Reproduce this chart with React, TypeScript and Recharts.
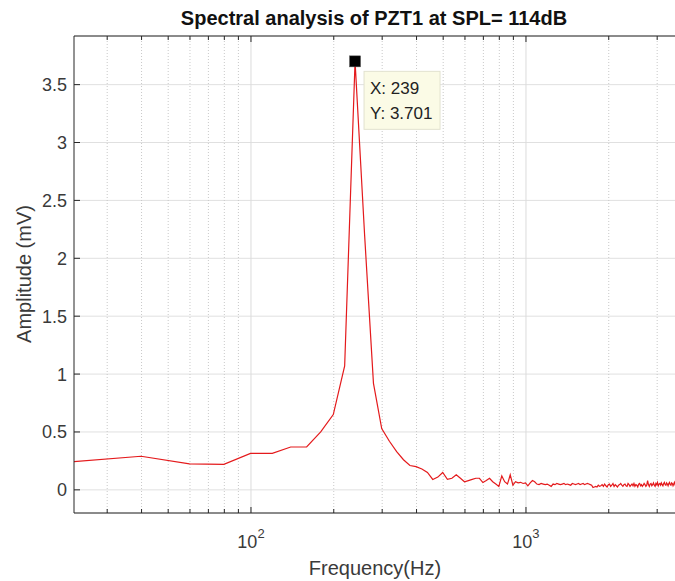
import React from 'react';
import { LineChart, Line, XAxis, YAxis, CartesianGrid, ReferenceLine, ReferenceDot } from 'recharts';

const W = 675;
const H = 581;
const FONT = '"Liberation Sans", Arial, Helvetica, sans-serif';
const AXIS_COLOR = '#262626';
const TEXT_COLOR = '#3a3a3a';

// FFT bin spacing (Hz) and the amplitude (mV) of each bin
const binWidthHz = 19.92;
const amplitudeMv = [
  0.233, 0.29, 0.225, 0.22, 0.315, 0.315, 0.37, 0.37, 0.5, 0.65,
  1.07, 3.701, 2.2, 0.92, 0.53, 0.42, 0.33, 0.26, 0.21, 0.2,
  0.18, 0.15, 0.09, 0.11, 0.15, 0.09, 0.1, 0.13, 0.1, 0.07,
  0.08, 0.09, 0.1, 0.1, 0.063, 0.08, 0.1, 0.07, 0.05, 0.03,
  0.12, 0.07, 0.05, 0.13, 0.04, 0.07, 0.06, 0.065, 0.055, 0.06,
  0.035, 0.06, 0.08, 0.07, 0.05, 0.045, 0.055, 0.05, 0.045, 0.05,
  0.04, 0.03, 0.05, 0.045, 0.055, 0.05, 0.045, 0.05, 0.055, 0.045,
  0.05, 0.045, 0.04, 0.055, 0.05, 0.045, 0.05, 0.055, 0.045, 0.05,
  0.055, 0.045, 0.05, 0.055, 0.05, 0.045, 0.04, 0.02, 0.025, 0.03,
  0.025, 0.04, 0.03, 0.035, 0.045, 0.03, 0.05, 0.035, 0.025, 0.045,
  0.05, 0.03, 0.04, 0.055, 0.03, 0.045, 0.035, 0.025, 0.04, 0.045,
  0.055, 0.04, 0.03, 0.045, 0.05, 0.035, 0.03, 0.055, 0.045, 0.03,
  0.04, 0.05, 0.035, 0.055, 0.03, 0.045, 0.04, 0.025, 0.05, 0.055,
  0.035, 0.045, 0.03, 0.04, 0.055, 0.045, 0.03, 0.04, 0.08, 0.045,
  0.03, 0.05, 0.055, 0.035, 0.045, 0.06, 0.04, 0.03, 0.055, 0.045,
  0.065, 0.035, 0.05, 0.055, 0.04, 0.06, 0.045, 0.035, 0.055, 0.065,
  0.045, 0.04, 0.06, 0.05, 0.035, 0.055, 0.065, 0.045, 0.04, 0.06,
  0.055, 0.035, 0.05, 0.065, 0.045, 0.055, 0.04,
];
const data = amplitudeMv.map((a, i) => ({ f: (i + 1) * binWidthHz, a }));

const xDomain: [number, number] = [22.72, 3483];
const yDomain: [number, number] = [-0.2, 3.92];
const yTicks = [0, 0.5, 1, 1.5, 2, 2.5, 3, 3.5];
const xMajorTicks = [100, 1000];
const xMinorTicks = [30, 40, 50, 60, 70, 80, 90, 200, 300, 400, 500, 600, 700, 800, 900, 2000, 3000];
const xAllTicks = [...xMinorTicks, ...xMajorTicks].sort((p, q) => p - q);

const title = 'Spectral analysis of PZT1 at SPL= 114dB';
const xLabel = 'Frequency(Hz)';
const yLabel = 'Amplitude (mV)';
const tipX = 239;
const tipY = 3.701;

const BottomTick = (props: any) => {
  const { x, y, payload } = props;
  const major = xMajorTicks.includes(payload.value);
  const exp = Math.round(Math.log10(payload.value));
  return (
    <g>
      <line x1={x} x2={x} y1={y} y2={y - (major ? 6 : 4)} stroke={AXIS_COLOR} strokeWidth={1} />
      {major && (
        <text x={x} y={y + 35} textAnchor="middle" fontSize={18} fill={TEXT_COLOR} fontFamily={FONT}>
          <tspan>10</tspan>
          <tspan dy={-10} fontSize={13}>{exp}</tspan>
        </text>
      )}
    </g>
  );
};

const TopTick = (props: any) => {
  const { x, y, payload } = props;
  const major = xMajorTicks.includes(payload.value);
  return <line x1={x} x2={x} y1={y} y2={y + (major ? 6 : 4)} stroke={AXIS_COLOR} strokeWidth={1} />;
};

const LeftTick = (props: any) => {
  const { x, y, payload } = props;
  return (
    <g>
      <line x1={x} x2={x + 6} y1={y} y2={y} stroke={AXIS_COLOR} strokeWidth={1} />
      <text x={x - 7} y={y} dy="0.36em" textAnchor="end" fontSize={18} fill={TEXT_COLOR} fontFamily={FONT}>
        {payload.value}
      </text>
    </g>
  );
};

const DataTip = (props: any) => {
  const { cx, cy } = props;
  return (
    <g>
      <rect x={cx - 5.5} y={cy - 5.5} width={11} height={11} fill="#000" stroke="#555" strokeWidth={0.5} />
      <rect x={cx + 9} y={cy + 10} width={76} height={58} fill="#fbfbe6" stroke="#e2e2cf" strokeWidth={1} />
      <text x={cx + 15} y={cy + 33} fontSize={17} fill="#222" fontFamily={FONT}>{`X: ${tipX}`}</text>
      <text x={cx + 15} y={cy + 58} fontSize={17} fill="#222" fontFamily={FONT}>{`Y: ${tipY}`}</text>
    </g>
  );
};

export default function App() {
  return (
    <div style={{ position: 'absolute', left: 0, top: 0, width: W, height: H, background: '#fff' }}>
      <LineChart width={W} height={H} data={data} margin={{ top: 26, right: 0, bottom: 28, left: 14 }}>
        <CartesianGrid xAxisId="bottom" vertical={false} stroke="#e0e0e0" />
        {xMinorTicks.map((v) => (
          <ReferenceLine key={`m${v}`} xAxisId="bottom" x={v} stroke="#c9c9c9" strokeDasharray="1 2" />
        ))}
        {xMajorTicks.map((v) => (
          <ReferenceLine key={`M${v}`} xAxisId="bottom" x={v} stroke="#dcdcdc" />
        ))}
        <XAxis
          xAxisId="bottom"
          dataKey="f"
          type="number"
          scale="log"
          domain={xDomain}
          allowDataOverflow
          ticks={xAllTicks}
          interval={0}
          height={40}
          tickSize={0}
          tickMargin={0}
          tickLine={false}
          tick={BottomTick}
          axisLine={{ stroke: AXIS_COLOR }}
        />
        <XAxis
          xAxisId="top"
          orientation="top"
          dataKey="f"
          type="number"
          scale="log"
          domain={xDomain}
          allowDataOverflow
          ticks={xAllTicks}
          interval={0}
          height={10}
          tickSize={0}
          tickMargin={0}
          tickLine={false}
          tick={TopTick}
          axisLine={{ stroke: AXIS_COLOR }}
        />
        <YAxis
          type="number"
          domain={yDomain}
          allowDataOverflow
          ticks={yTicks}
          interval={0}
          width={60}
          tickSize={0}
          tickMargin={0}
          tickLine={false}
          tick={LeftTick}
          axisLine={{ stroke: AXIS_COLOR }}
        />
        <Line
          xAxisId="bottom"
          dataKey="a"
          type="linear"
          stroke="#e41a1c"
          strokeWidth={1.2}
          dot={false}
          isAnimationActive={false}
        />
        <ReferenceDot xAxisId="bottom" x={tipX} y={tipY} r={5} shape={DataTip} />
      </LineChart>
      <svg
        width={W}
        height={H}
        style={{ position: 'absolute', left: 0, top: 0, pointerEvents: 'none' }}
      >
        <text x={374} y={25} textAnchor="middle" fontSize={20} fontWeight="bold" fill="#111" fontFamily={FONT}>
          {title}
        </text>
        <text x={375} y={575} textAnchor="middle" fontSize={20} fill={TEXT_COLOR} fontFamily={FONT}>
          {xLabel}
        </text>
        <text
          x={31}
          y={274}
          textAnchor="middle"
          fontSize={20}
          fill={TEXT_COLOR}
          fontFamily={FONT}
          transform="rotate(-90 31 274)"
        >
          {yLabel}
        </text>
      </svg>
    </div>
  );
}
